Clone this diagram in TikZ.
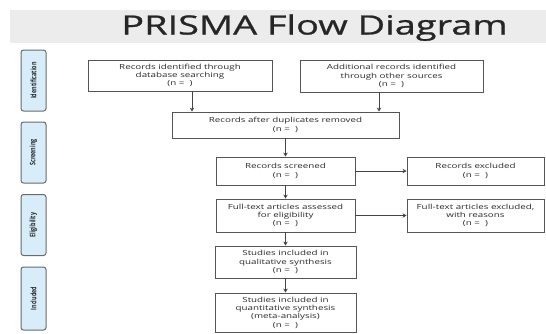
\documentclass[tikz,border=0pt]{standalone}
\usepackage{fontspec}
\setmainfont{Open Sans}[FakeStretch=1.4]
\newfontfamily\titlefont{Open Sans}[FakeStretch=1.43, FakeBold=0.9]
\newfontfamily\sidefont{Open Sans}
\usetikzlibrary{arrows.meta}
\definecolor{bandgray}{HTML}{ECECEC}
\definecolor{boxgray}{HTML}{555555}
\definecolor{linegray}{HTML}{444444}
\definecolor{textgray}{HTML}{2A2A2A}
\definecolor{titlegray}{HTML}{262626}
\definecolor{sideblue}{HTML}{D8EDFA}
\definecolor{sidegray}{HTML}{6A6A6A}
\newcommand{\sidelabel}[1]{\rotatebox{90}{\scalebox{1}[1.4]{\sidefont\bfseries\fontsize{5.4}{6}\selectfont #1}}}
\begin{document}
\begin{tikzpicture}[x=1pt,y=-1pt,
  box/.style={draw=boxgray, line width=0.9pt, fill=white, align=center, inner sep=0pt,
    font=\fontsize{7}{8.3}\selectfont, text=textgray},
  side/.style={draw=sidegray, fill=sideblue, rounded corners=2.5pt, line width=1pt,
    minimum width=25pt, minimum height=61pt, inner sep=0pt, text=black!85},
  arr/.style={draw=linegray, line width=0.8pt, -{Stealth[length=4pt,width=4.5pt]}},
  ttl/.style={font=\titlefont\fontsize{26.5}{30}\selectfont, text=titlegray, inner sep=0pt, anchor=base}]
\useasboundingbox (0,0) rectangle (546,333);
\fill[bandgray] (10,10) rectangle (546,43);
\node[ttl] (title) at (314.5,34.5) {PRISMA Flow Diagram};

% side labels
\node[side] (s1) at (33.5,80.5) {\sidelabel{Identification}};
\node[side] (s2) at (33.5,152.5) {\sidelabel{Screening}};
\node[side] (s3) at (33.5,225) {\sidelabel{Eligibility}};
\node[side, minimum height=63pt] (s4) at (33.5,298.5) {\sidelabel{Included}};

% boxes
\node[box, minimum width=184pt, minimum height=31pt] (b1) at (180,75.5)
  {Records identified through\\database searching\\(n =\ \ )};
\node[box, minimum width=183pt, minimum height=32pt] (b2) at (391.5,76)
  {Additional records identified\\through other sources\\(n =\ \ )};
\node[box, minimum width=227pt, minimum height=26pt] (b3) at (285.5,125)
  {Records after duplicates removed\\(n =\ \ )};
\node[box, minimum width=139pt, minimum height=28pt] (b4) at (285.5,171)
  {Records screened\\(n =\ \ )};
\node[box, minimum width=137pt, minimum height=28pt] (b5) at (475.5,171)
  {Records excluded\\(n =\ \ )};
\node[box, minimum width=139pt, minimum height=33pt] (b6) at (285.5,215.5)
  {Full-text articles assessed\\for eligibility\\(n =\ \ )};
\node[box, minimum width=137pt, minimum height=33pt] (b7) at (475.5,215.5)
  {Full-text articles excluded,\\with reasons\\(n =\ \ )};
\node[box, minimum width=141pt, minimum height=32pt] (b8) at (285.5,262)
  {Studies included in\\qualitative synthesis\\(n =\ \ )};
\node[box, minimum width=141pt, minimum height=39pt] (b9) at (285.5,312.5)
  {Studies included in\\quantitative synthesis\\(meta-analysis)\\(n =\ \ )};

% connectors
\draw[arr] ([xshift=12pt]b1.south) -- ([xshift=12pt]b1.south |- b3.north);
\draw[arr] ([xshift=-12.5pt]b2.south) -- ([xshift=-12.5pt]b2.south |- b3.north);
\draw[arr] (b3) -- (b4);
\draw[arr] (b4) -- (b5);
\draw[arr] (b4) -- (b6);
\draw[arr] (b6) -- (b7);
\draw[arr] (b6) -- (b8);
\draw[arr] (b8) -- (b9);
\end{tikzpicture}
\end{document}
